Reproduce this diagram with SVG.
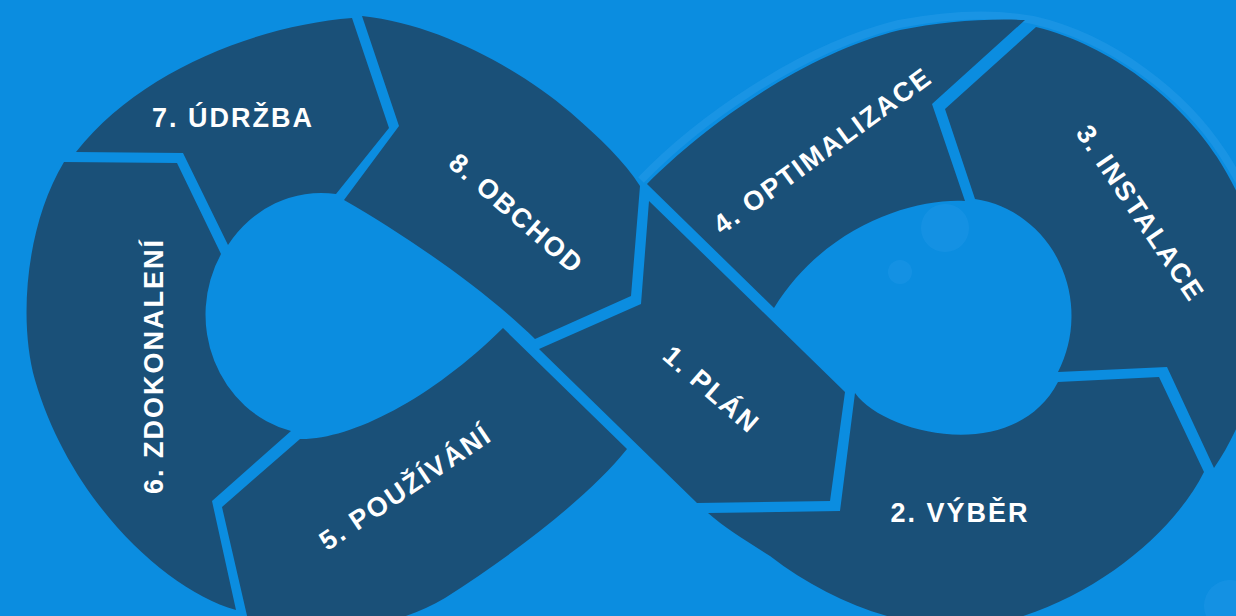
<svg xmlns="http://www.w3.org/2000/svg" width="1236" height="616" viewBox="0 0 1236 616">
<style>
.bg{fill:#0b8de0}
.seg{fill:#1a5078}
.lbl{fill:#ffffff;font-family:"Liberation Sans",Arial,sans-serif;font-weight:bold;font-size:27px;letter-spacing:2px;text-anchor:middle}
.spot{fill:#3aa6ee;opacity:0.2}
</style>
<rect class="bg" x="0" y="0" width="1236" height="616"/>
<path d="M641,180 C695,124 797,49 899,24 C940,16 990,12 1033,20 C1112,38 1185,95 1223,154 C1240,180 1250,200 1256,220" fill="none" stroke="#2399e6" stroke-width="8" opacity="0.6"/>
<circle class="spot" cx="945" cy="228" r="24"/>
<circle class="spot" cx="900" cy="272" r="12"/>
<circle class="spot" cx="1230" cy="606" r="26"/>
<g id="seg1">
<path class="seg" d="M649,201 L845,392 L830,501 L697,503 L539,349 L641,304 Z"/>
<text class="lbl" transform="translate(712,389) rotate(41)" y="10">1. PLÁN</text>
</g>
<g id="seg2">
<path class="seg" d="M855,393 C885,435 1015,465 1058,382 L1159,377 L1204,472 C1175,530 1100,595 1010,620 C930,640 840,610 770,556 C745,540 725,528 708,513 L840,511 Z"/>
<text class="lbl" x="960" y="522">2. VÝBĚR</text>
</g>
<g id="seg3">
<path class="seg" d="M1036,27 C1110,45 1180,100 1217,157 C1245,200 1268,260 1266,310 C1264,370 1240,430 1214,468 L1167,367 L1058,372 A112,118 0 0 0 975,199 L945,109 Z"/>
<text class="lbl" transform="translate(1141,213) rotate(56)" y="10">3. INSTALACE</text>
</g>
<g id="seg4">
<path class="seg" d="M647,184 C700,130 800,55 900,30 C940,22 985,18 1025,20 L932,104 L965,201 C915,198 825,225 774,308 Z"/>
<text class="lbl" transform="translate(822,150) rotate(-36)" y="10">4. OPTIMALIZACE</text>
</g>
<g id="seg5">
<path class="seg" d="M503,328 L627,449 C590,495 520,550 445,598 C380,636 290,640 248,620 L222,507 L300,439 C350,440 430,400 503,328 Z"/>
<text class="lbl" transform="translate(405,487) rotate(-34)" y="10">5. POUŽÍVÁNÍ</text>
</g>
<g id="seg6">
<path class="seg" d="M64,162 L177,163 L221,254 A113,120 0 0 0 291,431 L212,501 L236,610 C165,590 70,500 35,380 C18,320 26,225 64,162 Z"/>
<text class="lbl" transform="translate(153,366) rotate(-90)" y="10">6. ZDOKONALENÍ</text>
</g>
<g id="seg7">
<path class="seg" d="M76,152 L183,153 L228,245 A113,120 0 0 1 336,194 L389,128 L352,18 C260,25 140,70 76,152 Z"/>
<text class="lbl" x="233" y="127">7. ÚDRŽBA</text>
</g>
<g id="seg8">
<path class="seg" d="M362,16 C440,24 520,70 570,112 C600,138 625,162 640,186 L631,296 L535,339 C485,290 410,238 344,200 L399,126 Z"/>
<text class="lbl" transform="translate(517,213) rotate(41)" y="10">8. OBCHOD</text>
</g>
<g id="connectors"/>
</svg>
